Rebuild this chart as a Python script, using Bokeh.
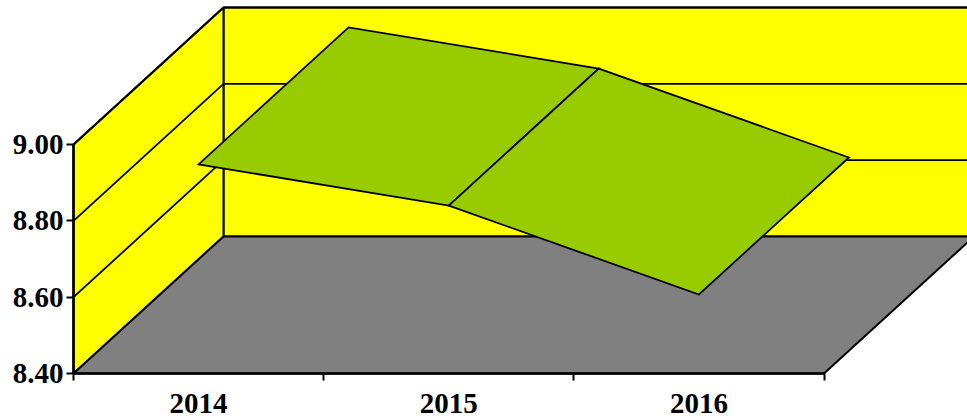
from bokeh.plotting import figure
from bokeh.models import Range1d, LinearAxis, FixedTicker
from bokeh.embed import file_html
from bokeh.resources import INLINE

categories = ["2014", "2015", "2016"]
values = [8.948, 8.84, 8.607]
y_ticks = [8.40, 8.60, 8.80, 9.00]

W, H = 967, 419
LEFT, RIGHT = 73.0, 823.5
BOTTOM, TOP = 373.0, 144.0
cat_w = (RIGHT - LEFT) / len(categories)
val_h = (BOTTOM - TOP) / (y_ticks[-1] - y_ticks[0])
DX = 150 / cat_w          # depth shift in category units
DY = 137 / val_h          # depth shift in value units
n = len(categories)
y0, y1 = y_ticks[0], y_ticks[-1]

p = figure(width=W, height=H, output_backend="svg", toolbar_location=None,
           x_range=Range1d(-LEFT / cat_w, (W - LEFT) / cat_w),
           y_range=Range1d(y0 - (H - BOTTOM) / val_h, y0 + BOTTOM / val_h),
           x_axis_type=None, y_axis_type=None,
           min_border=0, min_border_left=0, min_border_right=0,
           min_border_top=0, min_border_bottom=0)
p.outline_line_color = None
p.grid.visible = False
p.background_fill_color = "#FFFFFF"
p.border_fill_color = "#FFFFFF"
p.styles = {"position": "absolute", "left": "0px", "top": "0px"}

LW = 2
# back wall
p.patch([DX, n + DX, n + DX, DX], [y0 + DY, y0 + DY, y1 + DY, y1 + DY],
        fill_color="#FFFF00", line_color="#000000", line_width=LW)
# left wall
p.patch([0, DX, DX, 0], [y0, y0 + DY, y1 + DY, y1],
        fill_color="#FFFF00", line_color="#000000", line_width=LW)
# floor
p.patch([0, DX, n + DX, n], [y0, y0 + DY, y0 + DY, y0],
        fill_color="#808080", line_color="#000000", line_width=LW)
# gridlines
for t in y_ticks[1:]:
    p.line([0, DX, n + DX], [t, t + DY, t + DY], line_color="#000000", line_width=1.8)

# ribbon
for i in range(n - 1):
    xa, xb = i + 0.5, i + 1.5
    p.patch([xa, xa + DX, xb + DX, xb],
            [values[i], values[i] + DY, values[i + 1] + DY, values[i + 1]],
            fill_color="#99CC00", line_color="#000000", line_width=1.8,
            line_join="miter")

FONT = "Liberation Serif"
SIZE = "29px"

yax = LinearAxis(fixed_location=0, ticker=FixedTicker(ticks=y_ticks), bounds=(y0, y1),
                 major_label_overrides={t: f"{t:.2f}" for t in y_ticks})
yax.axis_line_width = 2.5
yax.major_tick_line_width = 2
yax.major_tick_out = 7
yax.major_tick_in = 0
yax.minor_tick_line_color = None
yax.major_label_text_font = FONT
yax.major_label_text_font_style = "bold"
yax.major_label_text_font_size = SIZE
yax.major_label_text_color = "#000000"
yax.major_label_standoff = 3
p.add_layout(yax, "left")

xax = LinearAxis(fixed_location=y0, ticker=FixedTicker(ticks=list(range(n + 1))), bounds=(0, n),
                 major_label_overrides={i: "" for i in range(n + 1)})
xax.axis_line_width = 2.5
xax.major_tick_line_width = 2
xax.major_tick_out = 7
xax.major_tick_in = 0
xax.minor_tick_line_color = None
p.add_layout(xax, "below")

lab = LinearAxis(fixed_location=y0, ticker=FixedTicker(ticks=[i + 0.5 for i in range(n)]),
                 major_label_overrides={i + 0.5: c for i, c in enumerate(categories)})
lab.axis_line_color = None
lab.major_tick_line_color = None
lab.minor_tick_line_color = None
lab.major_tick_out = 0
lab.major_tick_in = 0
lab.major_label_text_font = FONT
lab.major_label_text_font_style = "bold"
lab.major_label_text_font_size = SIZE
lab.major_label_text_color = "#000000"
lab.major_label_standoff = 20
p.add_layout(lab, "below")

open("out.html", "w").write(file_html(p, INLINE))
